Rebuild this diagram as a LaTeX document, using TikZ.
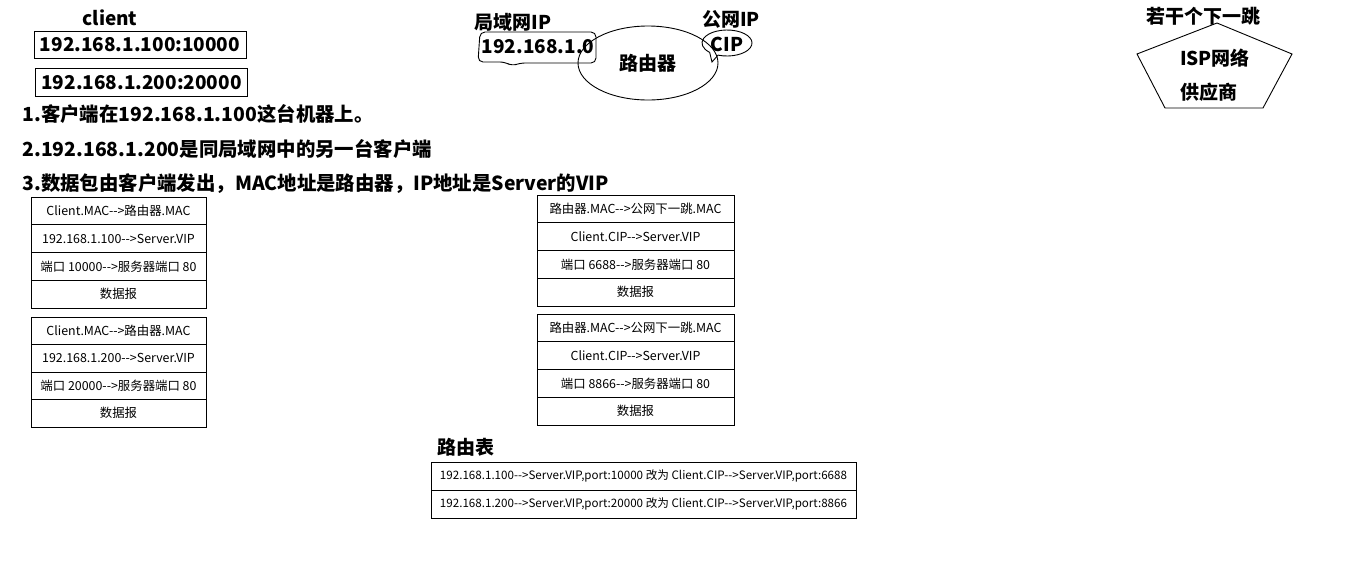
\documentclass[tikz,border=0pt]{standalone}
\usepackage{fontspec}
\newfontfamily\cjk{Noto Sans CJK SC}
\usetikzlibrary{shapes.geometric}
\newcommand\myarr{-{}->}
\begin{document}
\begin{tikzpicture}[x=1pt,y=-1pt,line width=0.9pt,
  big/.style={font=\cjk\bfseries\fontsize{19}{19}\selectfont, inner sep=0},
  note/.style={font=\cjk\bfseries\fontsize{19.4}{19}\selectfont, inner sep=0, anchor=west},
  cell/.style={draw, font=\cjk\fontsize{12.4}{13}\selectfont, inner sep=0, minimum height=27.75, minimum width=175},
  cellb/.style={cell, minimum width=197},
  cellr/.style={draw, font=\cjk\fontsize{11.6}{12}\selectfont, inner sep=0, minimum height=28, minimum width=425},
  ipbox/.style={draw, big, minimum width=212, minimum height=27}]
\useasboundingbox (0,0) rectangle (1360,571);
% client
\node[big] (client) at (110,18) {client};
\node[ipbox] (ip1) at (140,44.5) {192.168.1.100:10000};
\node[ipbox, minimum height=28] (ip2) at (141.5,82.5) {192.168.1.200:20000};
% LAN callout
\node[big] (lanlbl) at (513,22) {局域网IP};
\draw[rounded corners=5pt] (480,32) -- (596,32) -- (596,63) -- (520,63) -- (512,66) -- (505,62) -- (478,62) -- cycle;
\node[big] (lanip) at (538,47) {192.168.1.0};
% router
\node[draw, ellipse, minimum width=140, minimum height=74, inner sep=0] (router) at (648,63) {};
\node[big] (routertxt) at (648,63) {路由器};
% public IP callout
\node[big] (publbl) at (731,19) {公网IP};
\begin{scope}[shift={(727,43)}]
\draw (134:25 and 13) -- (-15,19) -- (111:25 and 13) arc[start angle=111, end angle=-226, x radius=25, y radius=13];
\end{scope}
\node[big] (cip) at (727,44) {CIP};
% ISP
\node[big] (hops) at (1203,16) {若干个下一跳};
\draw (1217,23) -- (1292,54) -- (1263,108) -- (1165,108) -- (1137,54) -- cycle;
\node[big] (isp1) at (1215,58) {ISP网络};
\node[big] (isp2) at (1209,92) {供应商};
% notes
\node[note] (n1) at (22,114) {1.客户端在192.168.1.100这台机器上。};
\node[note] (n2) at (22,149) {2.192.168.1.200是同局域网中的另一台客户端};
\node[note] (n3) at (22,184) {3.数据包由客户端发出，MAC地址是路由器，IP地址是Server的VIP};
% table 1
\node[cell] (a1) at (118.5,211) {Client.MAC\myarr 路由器.MAC};
\node[cell] (a2) at (118.5,238.75) {192.168.1.100\myarr Server.VIP};
\node[cell] (a3) at (118.5,266.5) {端口 10000\myarr 服务器端口 80};
\node[cell] (a4) at (118.5,294.25) {数据报};
% table 2
\node[cell, minimum height=27.5] (b1) at (118.5,330.75) {Client.MAC\myarr 路由器.MAC};
\node[cell, minimum height=27.5] (b2) at (118.5,358.25) {192.168.1.200\myarr Server.VIP};
\node[cell, minimum height=27.5] (b3) at (118.5,385.75) {端口 20000\myarr 服务器端口 80};
\node[cell, minimum height=27.5] (b4) at (118.5,413.25) {数据报};
% table 3
\node[cellb] (c1) at (635.5,208.9) {路由器.MAC\myarr 公网下一跳.MAC};
\node[cellb] (c2) at (635.5,236.6) {Client.CIP\myarr Server.VIP};
\node[cellb] (c3) at (635.5,264.4) {端口 6688\myarr 服务器端口 80};
\node[cellb] (c4) at (635.5,292.1) {数据报};
% table 4
\node[cellb] (d1) at (635.5,327.9) {路由器.MAC\myarr 公网下一跳.MAC};
\node[cellb] (d2) at (635.5,355.6) {Client.CIP\myarr Server.VIP};
\node[cellb] (d3) at (635.5,383.4) {端口 8866\myarr 服务器端口 80};
\node[cellb] (d4) at (635.5,411.1) {数据报};
% routing table
\node[big, anchor=west] (rt) at (437,447) {路由表};
\node[cellr] (r1) at (643.5,476) {192.168.1.100\myarr Server.VIP,port:10000 改为 Client.CIP\myarr Server.VIP,port:6688};
\node[cellr] (r2) at (643.5,504) {192.168.1.200\myarr Server.VIP,port:20000 改为 Client.CIP\myarr Server.VIP,port:8866};
\end{tikzpicture}
\end{document}
